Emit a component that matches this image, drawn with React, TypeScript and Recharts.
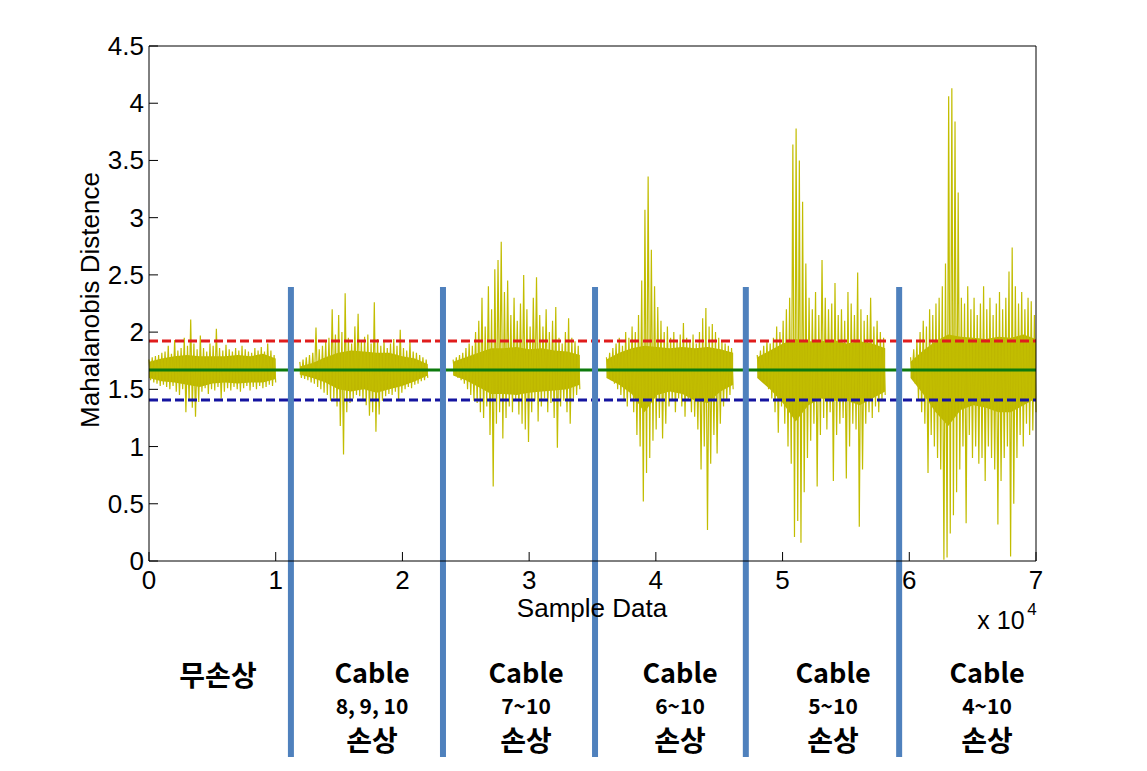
import React from "react";
import { ComposedChart, Line, Area, XAxis, YAxis, ReferenceLine } from "recharts";

const xTicks = [0, 10000, 20000, 30000, 40000, 50000, 60000, 70000];
const yTicks = [0, 0.5, 1, 1.5, 2, 2.5, 3, 3.5, 4, 4.5];

// sample ranges of the six cases
const segRanges = [
  [0, 10000],
  [11900, 22000],
  [24000, 34000],
  [36100, 46100],
  [48000, 58100],
  [60100, 70000],
];

// upper / lower envelope of the distance signal
const hi1 = [1.76,1.78,1.79,1.80,1.82,1.83,1.88,1.81,1.93,1.84,1.86,1.95,1.88,2.11,1.90,1.85,1.97,1.86,1.83,1.90,1.88,2.03,1.86,1.84,1.89,1.85,1.83,1.86,1.84,1.88,1.85,1.83,1.82,1.86,1.84,1.87,1.83,1.90,1.84,1.80];
const lo1 = [1.58,1.56,1.55,1.53,1.54,1.52,1.50,1.53,1.48,1.45,1.50,1.30,1.40,1.34,1.26,1.39,1.48,1.51,1.46,1.50,1.49,1.52,1.42,1.48,1.51,1.49,1.52,1.50,1.48,1.51,1.53,1.49,1.52,1.50,1.53,1.51,1.52,1.54,1.53,1.56];

const hi2 = [1.74,1.76,1.78,1.80,1.82,2.04,1.85,1.88,1.92,1.95,2.20,1.98,2.15,2.00,2.34,1.95,1.90,2.05,2.16,1.92,1.96,1.98,1.90,2.26,1.94,1.88,1.92,1.86,1.90,1.94,1.88,2.02,1.86,1.84,1.92,1.83,1.82,1.80,1.78,1.76];
const lo2 = [1.60,1.59,1.58,1.56,1.55,1.52,1.50,1.47,1.45,1.40,1.42,1.35,1.18,0.93,1.30,1.38,1.42,1.45,1.44,1.40,1.36,1.27,1.30,1.13,1.28,1.40,1.44,1.46,1.45,1.48,1.40,1.47,1.50,1.52,1.51,1.54,1.55,1.57,1.58,1.60];

const hi3 = [1.76,1.78,1.80,1.82,1.86,1.90,1.88,2.00,2.10,2.30,2.05,2.40,2.20,2.55,2.63,2.79,2.35,2.45,2.15,2.30,2.10,2.25,2.50,2.20,2.05,2.30,2.48,2.15,2.05,2.20,2.00,2.10,2.22,1.95,1.90,2.00,2.12,1.95,1.92,1.88];
const lo3 = [1.62,1.60,1.58,1.55,1.50,1.45,1.40,1.38,1.30,1.25,1.35,1.10,0.65,1.20,1.30,1.07,1.25,1.35,1.30,1.40,1.28,1.20,1.15,1.04,1.30,1.40,1.22,1.35,1.42,1.30,1.38,1.25,0.99,1.35,1.40,1.30,1.20,1.42,1.45,1.50];

const hi4 = [1.78,1.82,1.86,1.90,1.95,1.88,2.00,1.95,2.05,2.00,2.15,2.45,3.07,3.36,2.72,2.40,2.22,2.10,2.00,2.05,1.95,2.00,1.92,1.98,2.08,1.95,1.92,1.98,1.90,2.00,2.12,2.21,2.05,2.07,2.00,1.95,1.92,1.90,1.88,1.86];
const lo4 = [1.60,1.58,1.55,1.50,1.45,1.40,1.35,1.42,1.30,1.10,1.00,0.52,0.77,0.90,1.05,1.15,1.25,1.07,1.20,1.35,1.40,1.30,1.42,1.35,1.26,1.40,1.30,1.26,1.15,0.80,1.00,0.27,0.85,1.10,0.94,1.20,1.35,1.40,1.45,1.50];

const hi5 = [1.80,1.84,1.88,1.92,1.90,1.95,2.05,2.00,2.10,2.20,2.30,3.64,3.78,3.50,3.14,2.60,2.30,2.20,2.35,2.15,2.63,2.30,2.20,2.25,2.43,2.15,2.20,2.10,2.35,2.25,2.15,2.52,2.20,2.10,2.15,2.30,2.05,2.10,2.00,1.95];
const lo5 = [1.62,1.58,1.55,1.50,1.42,1.30,1.12,1.35,1.20,1.00,0.85,0.21,0.35,0.16,0.60,0.90,1.05,1.20,0.65,1.10,1.25,1.15,1.30,0.70,1.10,1.20,1.25,0.72,1.00,1.20,1.15,0.30,0.80,1.20,1.30,1.25,1.35,1.30,1.40,1.45];

const hi6 = [1.78,1.85,1.92,2.00,2.10,2.05,2.20,2.15,2.25,2.30,2.40,2.60,4.06,4.13,3.84,3.22,2.30,2.25,2.40,2.20,2.30,2.15,2.25,2.40,2.20,2.30,2.15,2.25,2.35,2.20,2.30,2.53,2.74,2.40,2.25,2.35,2.20,2.30,2.27,2.15];
const lo6 = [1.62,1.55,1.40,1.30,1.20,0.77,1.10,1.00,0.90,0.80,0.01,0.03,0.24,0.40,0.60,0.80,1.00,0.33,1.10,0.90,1.00,0.85,0.90,0.70,1.00,0.90,0.80,0.32,0.70,0.90,1.00,0.04,0.50,0.90,1.10,1.00,1.20,1.10,1.14,1.30];

// dense core of the signal (solid band), top and bottom per case
const coreTop1 = [1.74,1.77,1.79,1.80,1.79,1.79,1.79,1.80,1.79,1.81,1.77];
const coreBot1 = [1.60,1.57,1.56,1.54,1.52,1.55,1.56,1.55,1.56,1.56,1.59];
const coreTop2 = [1.70,1.73,1.78,1.82,1.84,1.83,1.82,1.82,1.79,1.77,1.72];
const coreBot2 = [1.63,1.60,1.56,1.50,1.48,1.50,1.47,1.50,1.53,1.57,1.62];
const coreTop3 = [1.74,1.78,1.82,1.86,1.86,1.87,1.85,1.86,1.84,1.83,1.80];
const coreBot3 = [1.62,1.58,1.52,1.46,1.46,1.45,1.47,1.48,1.49,1.50,1.54];
const coreTop4 = [1.76,1.82,1.86,1.88,1.87,1.86,1.87,1.86,1.87,1.85,1.82];
const coreBot4 = [1.60,1.54,1.46,1.30,1.45,1.48,1.46,1.40,1.38,1.48,1.54];
const coreTop5 = [1.78,1.84,1.90,1.94,1.92,1.92,1.93,1.90,1.92,1.90,1.86];
const coreBot5 = [1.60,1.50,1.38,1.22,1.36,1.42,1.40,1.40,1.36,1.42,1.48];
const coreTop6 = [1.74,1.84,1.92,1.98,1.96,1.95,1.94,1.96,1.95,1.98,1.94];
const coreBot6 = [1.60,1.46,1.30,1.18,1.32,1.36,1.34,1.30,1.30,1.36,1.42];

const highs = [hi1, hi2, hi3, hi4, hi5, hi6];
const lows = [lo1, lo2, lo3, lo4, lo5, lo6];
const coreTops = [coreTop1, coreTop2, coreTop3, coreTop4, coreTop5, coreTop6];
const coreBots = [coreBot1, coreBot2, coreBot3, coreBot4, coreBot5, coreBot6];

// threshold lines
const upperLimit = 1.922;
const meanLevel = 1.669;
const lowerLimit = 1.407;

// boundaries between cases (drawn as thick blue bars)
const cutX = [11200, 23200, 35200, 47100, 59200];

const caseTitles = ["무손상", "Cable", "Cable", "Cable", "Cable", "Cable"];
const caseCables = ["", "8, 9, 10", "7~10", "6~10", "5~10", "4~10"];
const caseDamage = ["", "손상", "손상", "손상", "손상", "손상"];
const caseCenterX = [210, 364, 518, 672, 825, 979];

const signal: { x: number; v: number | null }[] = [];
const band: { x: number; band: number[] | null }[] = [];
segRanges.forEach(([a, b], s) => {
  const n = highs[s].length * 2;
  const step = (b - a) / (n - 1);
  highs[s].forEach((h, i) => {
    signal.push({ x: a + 2 * i * step, v: h });
    signal.push({ x: a + (2 * i + 1) * step, v: lows[s][i] });
  });
  const cs = (b - a) / (coreTops[s].length - 1);
  coreTops[s].forEach((t, i) => band.push({ x: a + i * cs, band: [coreBots[s][i], t] }));
  if (s < segRanges.length - 1) {
    signal.push({ x: b + 1, v: null });
    band.push({ x: b + 1, band: null });
  }
});

const mono = "'Liberation Sans', Arial, sans-serif";
const kor = "'Noto Sans CJK KR', 'Noto Sans', sans-serif";
const yellow = "#C2BD00";
const coreYellow = "#BDB600";

const BottomTick = (props: any) => {
  const { x, y, payload } = props;
  return (
    <g>
      <line x1={x} x2={x} y1={y} y2={y - 9} stroke="#000" />
      <text x={x} y={y + 28} textAnchor="middle" fontSize={26} fontFamily={mono} fill="#000">
        {payload.value / 10000}
      </text>
    </g>
  );
};

const TopTick = (props: any) => {
  const { x, y } = props;
  return <line x1={x} x2={x} y1={y} y2={y + 9} stroke="#000" />;
};

const LeftTick = (props: any) => {
  const { x, y, payload } = props;
  return (
    <g>
      <line x1={x} x2={x + 9} y1={y} y2={y} stroke="#000" />
      <text x={x - 5} y={y + 9} textAnchor="end" fontSize={26} fontFamily={mono} fill="#000">
        {payload.value}
      </text>
    </g>
  );
};

const RightTick = (props: any) => {
  const { x, y } = props;
  return <line x1={x} x2={x - 9} y1={y} y2={y} stroke="#000" />;
};

const centered = (x: number, y: number): React.CSSProperties => ({
  position: "absolute",
  left: x,
  top: y,
  transform: "translate(-50%, -50%)",
  whiteSpace: "nowrap",
  lineHeight: 1,
});

export default function App() {
  return (
    <div style={{ position: "relative", width: 1131, height: 755, background: "#fff" }}>
      <ComposedChart
        width={1131}
        height={755}
        margin={{ top: 37, right: 102, bottom: 201, left: 140 }}
      >
        <XAxis
          dataKey="x"
          type="number"
          domain={[0, 70000]}
          ticks={xTicks}
          interval={0}
          height={1}
          tickSize={0}
          tickMargin={0}
          tickLine={false}
          tick={BottomTick}
          stroke="#000"
          allowDuplicatedCategory={false}
        />
        <XAxis
          xAxisId="top"
          orientation="top"
          dataKey="x"
          type="number"
          domain={[0, 70000]}
          ticks={xTicks}
          interval={0}
          height={1}
          tickSize={0}
          tickMargin={0}
          tickLine={false}
          tick={TopTick}
          stroke="#000"
        />
        <YAxis
          type="number"
          domain={[0, 4.5]}
          ticks={yTicks}
          interval={0}
          width={1}
          tickSize={0}
          tickMargin={0}
          tickLine={false}
          tick={LeftTick}
          stroke="#000"
        />
        <YAxis
          yAxisId="right"
          orientation="right"
          type="number"
          domain={[0, 4.5]}
          ticks={yTicks}
          interval={0}
          width={1}
          tickSize={0}
          tickMargin={0}
          tickLine={false}
          tick={RightTick}
          stroke="#000"
        />
        <Area
          data={band}
          type="linear"
          dataKey="band"
          stroke="none"
          fill={coreYellow}
          fillOpacity={1}
          connectNulls={false}
          activeDot={false}
          isAnimationActive={false}
        />
        <Line
          data={signal}
          type="linear"
          dataKey="v"
          stroke={yellow}
          strokeWidth={1.2}
          dot={false}
          activeDot={false}
          connectNulls={false}
          isAnimationActive={false}
        />
        <ReferenceLine y={upperLimit} stroke="#e01c1c" strokeWidth={3} strokeDasharray="9 4" />
        <ReferenceLine y={meanLevel} stroke="#0d7a0d" strokeWidth={3} />
        <ReferenceLine y={lowerLimit} stroke="#1414a0" strokeWidth={3} strokeDasharray="9 4" />
        {cutX.map((c) => (
          <ReferenceLine
            key={c}
            segment={[{ x: c, y: 2.394 }, { x: c, y: -1.713 }]}
            stroke="#4F81BD"
            strokeWidth={6}
            ifOverflow="visible"
          />
        ))}
      </ComposedChart>

      <div
        style={{
          ...centered(82, 292),
          transform: "translate(-50%, -50%) rotate(-90deg)",
          fontFamily: mono,
          fontSize: 26,
        }}
      >
        Mahalanobis Distence
      </div>
      <div style={{ ...centered(584, 600), fontFamily: mono, fontSize: 26 }}>Sample Data</div>
      <div style={{ ...centered(993, 612), fontFamily: mono, fontSize: 25 }}>x 10</div>
      <div style={{ ...centered(1024, 601), fontFamily: mono, fontSize: 17 }}>4</div>

      {caseTitles.map((t, i) => (
        <React.Fragment key={i}>
          <div
            style={{
              ...centered(caseCenterX[i], i === 0 ? 666 : 663),
              fontFamily: kor,
              fontWeight: 700,
              fontSize: i === 0 ? 28 : 27,
            }}
          >
            {t}
          </div>
          {caseCables[i] && (
            <div style={{ ...centered(caseCenterX[i], 697), fontFamily: kor, fontWeight: 700, fontSize: 21 }}>
              {caseCables[i]}
            </div>
          )}
          {caseDamage[i] && (
            <div style={{ ...centered(caseCenterX[i], 731), fontFamily: kor, fontWeight: 700, fontSize: 28 }}>
              {caseDamage[i]}
            </div>
          )}
        </React.Fragment>
      ))}
    </div>
  );
}
